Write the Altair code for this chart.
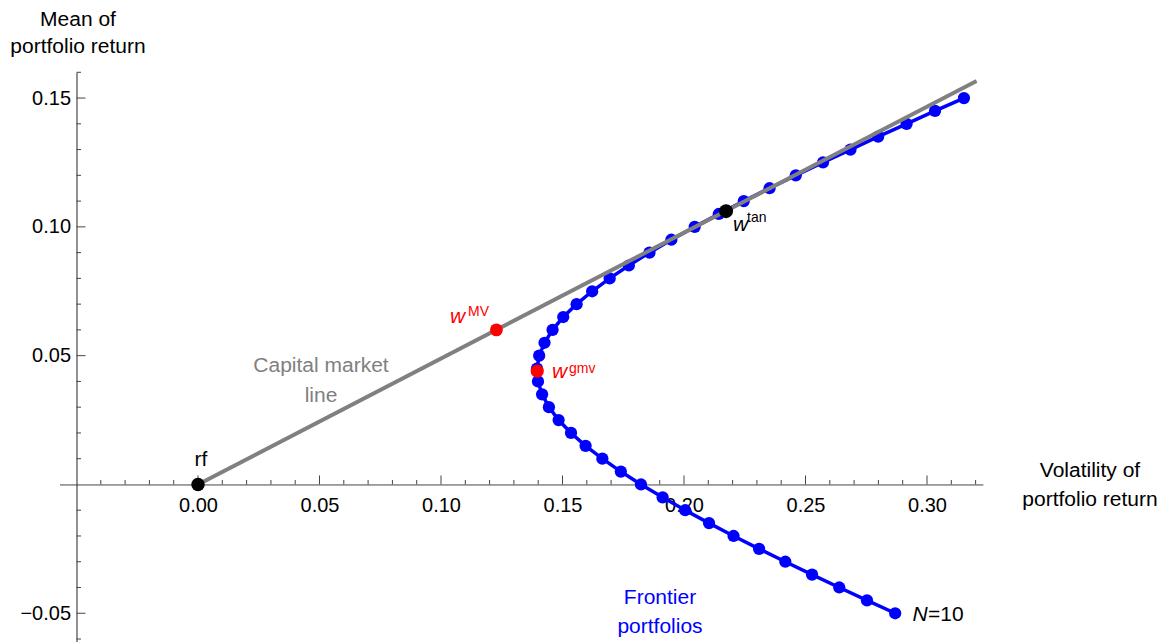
import altair as alt
import pandas as pd

# ---------------- data ----------------
frontier_mu = [-0.050, -0.045, -0.040, -0.035, -0.030, -0.025, -0.020, -0.015, -0.010, -0.005,
               0.000, 0.005, 0.010, 0.015, 0.020, 0.025, 0.030, 0.035, 0.040, 0.045,
               0.050, 0.055, 0.060, 0.065, 0.070, 0.075, 0.080, 0.085, 0.090, 0.095,
               0.100, 0.105, 0.110, 0.115, 0.120, 0.125, 0.130, 0.135, 0.140, 0.145, 0.150]
frontier_sigma = [0.2869, 0.2753, 0.2639, 0.2527, 0.2417, 0.2309, 0.2204, 0.2103, 0.2005, 0.1912,
                  0.1823, 0.1740, 0.1664, 0.1595, 0.1535, 0.1484, 0.1444, 0.1416, 0.1399, 0.1395,
                  0.1404, 0.1426, 0.1459, 0.1503, 0.1558, 0.1622, 0.1694, 0.1773, 0.1858, 0.1948,
                  0.2044, 0.2143, 0.2246, 0.2352, 0.2460, 0.2572, 0.2685, 0.2799, 0.2916, 0.3033, 0.3152]

cml_sigma = [0.0, 0.3204]
cml_mu = [0.0, 0.1566]

rf_point = [0.0, 0.0]
w_mv_point = [0.1228, 0.0600]
w_gmv_point = [0.1396, 0.0440]
w_tan_point = [0.2173, 0.1061]

x_tick_labels = [0.00, 0.05, 0.10, 0.15, 0.20, 0.25, 0.30]
y_tick_labels = [-0.05, 0.05, 0.10, 0.15]
x_major_ticks = [0.00, 0.05, 0.10, 0.15, 0.20, 0.25, 0.30]
x_minor_ticks = [-0.04, -0.03, -0.02, -0.01, 0.01, 0.02, 0.03, 0.04, 0.06, 0.07, 0.08, 0.09,
                 0.11, 0.12, 0.13, 0.14, 0.16, 0.17, 0.18, 0.19, 0.21, 0.22, 0.23, 0.24,
                 0.26, 0.27, 0.28, 0.29, 0.31, 0.32]
y_major_ticks = [-0.05, 0.05, 0.10, 0.15]
y_minor_ticks = [-0.06, -0.04, -0.03, -0.02, -0.01, 0.01, 0.02, 0.03, 0.04, 0.06, 0.07, 0.08,
                 0.09, 0.11, 0.12, 0.13, 0.14, 0.16]

# ---------------- layout ----------------
X0, X1 = -0.057, 0.323
Y0, Y1 = -0.061, 0.160
PXX, PXY = 2430.0, 2576.0
W = (X1 - X0) * PXX
H = (Y1 - Y0) * PXY
Y_AXIS_AT = -0.05
XAXIS_OFFSET = (Y1 - 0.0) * PXY - H      # move x axis up to y = 0
YAXIS_OFFSET = -(Y_AXIS_AT - X0) * PXX   # move y axis right to x = -0.05

FONT = "Liberation Sans"
AXIS_COLOR = "#444444"
BLUE = "#0000FF"
RED = "#FF0000"
GRAY = "#808080"

LABEL_EXPR = "datum.value < 0 ? '\u2212' + format(-datum.value, '.2f') : format(datum.value, '.2f')"

xscale = alt.Scale(domain=[X0, X1], nice=False, zero=False)
yscale = alt.Scale(domain=[Y0, Y1], nice=False, zero=False)
xaxis = alt.Axis(values=x_tick_labels, labelExpr=LABEL_EXPR, ticks=False, tickSize=0, grid=False,
                 domain=True, domainColor=AXIS_COLOR, domainWidth=1, labelFont=FONT,
                 labelFontSize=20, labelColor="black", labelBaseline="alphabetic",
                 labelPadding=27, labelFlush=False, labelOverlap=False, title=None,
                 offset=XAXIS_OFFSET)
yaxis = alt.Axis(values=y_tick_labels, labelExpr=LABEL_EXPR, ticks=False, tickSize=0, grid=False,
                 domain=True, domainColor="#222222", domainWidth=1, labelFont=FONT,
                 labelFontSize=20, labelColor="black", labelBaseline="middle",
                 labelPadding=6, labelFlush=False, labelOverlap=False, title=None,
                 offset=YAXIS_OFFSET)


def X(field):
    return alt.X(field, type="quantitative", scale=xscale, axis=xaxis)


def Y(field):
    return alt.Y(field, type="quantitative", scale=yscale, axis=yaxis)


def XD(v):
    return alt.XDatum(v, type="quantitative", scale=xscale, axis=xaxis)


def YD(v):
    return alt.YDatum(v, type="quantitative", scale=yscale, axis=yaxis)


one = pd.DataFrame({"k": [0]})

frontier = pd.DataFrame({"sigma": frontier_sigma, "mu": frontier_mu})
cml = pd.DataFrame({"sigma": cml_sigma, "mu": cml_mu})

# axis ticks (pointing into the plot, Mathematica style)
xt_major = alt.Chart(pd.DataFrame({"v": x_major_ticks})).mark_rule(
    color=AXIS_COLOR, strokeWidth=1, y2Offset=-9).encode(x=X("v"), y=YD(0.0), y2=alt.Y2Datum(0.0))
xt_minor = alt.Chart(pd.DataFrame({"v": x_minor_ticks})).mark_rule(
    color=AXIS_COLOR, strokeWidth=1, y2Offset=-4.5).encode(x=X("v"), y=YD(0.0), y2=alt.Y2Datum(0.0))
yt_major = alt.Chart(pd.DataFrame({"v": y_major_ticks})).mark_rule(
    color=AXIS_COLOR, strokeWidth=1, x2Offset=9).encode(y=Y("v"), x=XD(Y_AXIS_AT), x2=alt.X2Datum(Y_AXIS_AT))
yt_minor = alt.Chart(pd.DataFrame({"v": y_minor_ticks})).mark_rule(
    color=AXIS_COLOR, strokeWidth=1, x2Offset=4.5).encode(y=Y("v"), x=XD(Y_AXIS_AT), x2=alt.X2Datum(Y_AXIS_AT))

front_line = alt.Chart(frontier).mark_line(color=BLUE, strokeWidth=3.5).encode(
    x=X("sigma"), y=Y("mu"), order="mu:Q")
front_pts = alt.Chart(frontier).mark_circle(color=BLUE, size=150, opacity=1).encode(
    x=X("sigma"), y=Y("mu"))
cml_line = alt.Chart(cml).mark_line(color=GRAY, strokeWidth=4).encode(
    x=X("sigma"), y=Y("mu"), order="sigma:Q")


def dot(p, color, size):
    return alt.Chart(one).mark_circle(color=color, size=size, opacity=1).encode(x=XD(p[0]), y=YD(p[1]))


def label(txt, x, y, color="black", size=21, align="center", style="normal"):
    return alt.Chart(one).mark_text(text=txt, align=align, baseline="alphabetic", font=FONT,
                                    fontSize=size, color=color, fontStyle=style).encode(
        x=XD(x), y=YD(y))


def px2x(px):
    return (px - 198.0) / PXX


def px2y(py):
    return (485.0 - py) / PXY


labels = [
    label("rf", px2x(201), px2y(467)),
    label("Capital market", px2x(321), px2y(373), color=GRAY),
    label("line", px2x(321), px2y(403), color=GRAY),
    label("w", px2x(450), px2y(324), color=RED, align="left", style="italic"),
    label("MV", px2x(468), px2y(317), color=RED, size=14, align="left"),
    label("w", px2x(552), px2y(379), color=RED, align="left", style="italic"),
    label("gmv", px2x(569), px2y(374), color=RED, size=14, align="left"),
    label("w", px2x(733), px2y(232), align="left", style="italic"),
    label("tan", px2x(747), px2y(222.5), size=14, align="left"),
    label("N", px2x(912.5), px2y(621.5), align="left", style="italic"),
    label("=10", px2x(928), px2y(621.5), align="left"),
    label("Frontier", px2x(660), px2y(605), color=BLUE),
    label("portfolios", px2x(660), px2y(633.5), color=BLUE),
    label("Volatility of", px2x(1090), px2y(478)),
    label("portfolio return", px2x(1090), px2y(507)),
    label("Mean of", px2x(78), px2y(26.5)),
    label("portfolio return", px2x(78), px2y(54)),
]

chart = alt.layer(
    xt_minor, xt_major, yt_minor, yt_major,
    front_line, front_pts, cml_line,
    dot(rf_point, "black", 180),
    dot(w_mv_point, RED, 165),
    dot(w_gmv_point, RED, 175),
    dot(w_tan_point, "black", 195),
    *labels,
).properties(
    width=W, height=H,
    autosize=alt.AutoSizeParams(type="none"),
    padding={"left": 51.5, "top": 64.3, "right": 177, "bottom": 0},
).configure(background="white").configure_view(stroke=None)

chart.save("out.html", embed_options={"renderer": "svg", "actions": False})
